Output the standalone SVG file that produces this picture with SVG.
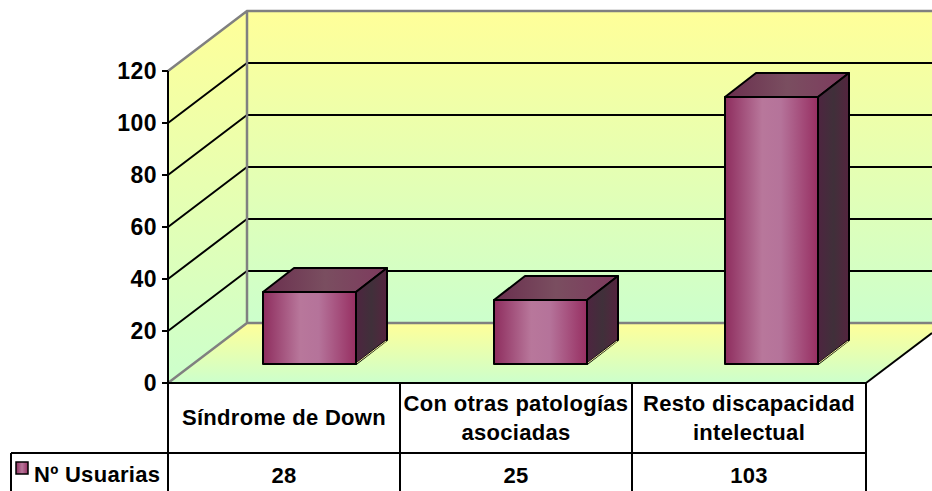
<svg xmlns="http://www.w3.org/2000/svg" width="932" height="491" viewBox="0 0 932 491">
<defs>
<linearGradient id="wall" x1="0" y1="0" x2="0" y2="1">
<stop offset="0" stop-color="#FFFF99"/>
<stop offset="1" stop-color="#CCFFCC"/>
</linearGradient>
<linearGradient id="sidewall" gradientUnits="userSpaceOnUse" x1="0" y1="11" x2="0" y2="383">
<stop offset="0" stop-color="#FFFF99"/>
<stop offset="1" stop-color="#CCFFCC"/>
</linearGradient>
<linearGradient id="floor" gradientUnits="userSpaceOnUse" x1="0" y1="323" x2="0" y2="383">
<stop offset="0" stop-color="#FFFF99"/>
<stop offset="1" stop-color="#CCFFCC"/>
</linearGradient>
<linearGradient id="front" x1="0" y1="0" x2="1" y2="0">
<stop offset="0" stop-color="#8E2D5E"/>
<stop offset="0.4" stop-color="#B8779B"/>
<stop offset="0.6" stop-color="#B5739A"/>
<stop offset="1" stop-color="#972F62"/>
</linearGradient>
<linearGradient id="top" x1="0" y1="0" x2="1" y2="0">
<stop offset="0" stop-color="#6A2F4E"/>
<stop offset="0.5" stop-color="#7A4E60"/>
<stop offset="1" stop-color="#7E3A5E"/>
</linearGradient>
<linearGradient id="side" x1="0" y1="0" x2="1" y2="0">
<stop offset="0" stop-color="#4E2540"/>
<stop offset="0.5" stop-color="#40303A"/>
<stop offset="1" stop-color="#55243F"/>
</linearGradient>
<linearGradient id="leg" x1="0" y1="0" x2="1" y2="0">
<stop offset="0" stop-color="#8E2D5E"/>
<stop offset="0.5" stop-color="#B8779B"/>
<stop offset="1" stop-color="#972F62"/>
</linearGradient>
</defs>
<style>
.t{font-family:"Liberation Sans",Arial,sans-serif;font-weight:bold;font-size:22px;fill:#000;letter-spacing:0.3px}
.ax{text-anchor:end;font-size:23px;letter-spacing:0.5px}
.c{text-anchor:middle}
.g{stroke:#000;stroke-width:2;fill:none}
.e{stroke:#808080;stroke-width:2.5;fill:none}
.k{stroke:#000;stroke-width:2;fill:none}
.b{stroke:#000;stroke-width:2;stroke-linejoin:round}
</style>
<rect width="932" height="491" fill="#fff"/>
<g id="walls">
<rect x="247" y="11" width="700" height="312" fill="url(#wall)"/>
<polygon points="168,71 247,11 247,323 168,383" fill="url(#sidewall)"/>
<polygon points="168,383 247,323 947,323 866,383" fill="url(#floor)"/>
</g>
<g id="gridlines">
<path class="g" d="M247 63H932M247 115H932M247 167H932M247 219H932M247 271H932"/>
<path class="g" d="M168 123L247 63M168 175L247 115M168 227L247 167M168 279L247 219M168 331L247 271"/>
<path class="e" d="M168 71L247 11H932M247 11V323H932M247 323L168 383"/>
<path class="k" d="M866 383L932 333"/>
</g>
<g id="axis">
<path class="k" d="M168 71V383M162 71H168M162 123H168M162 175H168M162 227H168M162 279H168M162 331H168M162 383H168"/>
<text class="t ax" x="157" y="79">120</text>
<text class="t ax" x="157" y="131">100</text>
<text class="t ax" x="157" y="183">80</text>
<text class="t ax" x="157" y="235">60</text>
<text class="t ax" x="157" y="287">40</text>
<text class="t ax" x="157" y="339">20</text>
<text class="t ax" x="157" y="391">0</text>
</g>
<g id="bar1">
<polygon class="b" points="263,292 294,268 387,268 356,292" fill="url(#top)"/>
<polygon class="b" points="356,292 387,268 387,340 356,364" fill="url(#side)"/>
<line x1="357" y1="363" x2="386" y2="341" stroke="#F4F0A0" stroke-width="1"/>
<rect class="b" x="263" y="292" width="93" height="72" fill="url(#front)"/>
</g>
<g id="bar2">
<polygon class="b" points="494,300 525,276 618,276 587,300" fill="url(#top)"/>
<polygon class="b" points="587,300 618,276 618,340 587,364" fill="url(#side)"/>
<line x1="588" y1="363" x2="617" y2="341" stroke="#F4F0A0" stroke-width="1"/>
<rect class="b" x="494" y="300" width="93" height="64" fill="url(#front)"/>
</g>
<g id="bar3">
<polygon class="b" points="725,97 756,73 849,73 818,97" fill="url(#top)"/>
<polygon class="b" points="818,97 849,73 849,340 818,364" fill="url(#side)"/>
<line x1="819" y1="363" x2="848" y2="341" stroke="#F4F0A0" stroke-width="1"/>
<rect class="b" x="725" y="97" width="93" height="267" fill="url(#front)"/>
</g>
<g id="table">
<path class="k" d="M168 383H866M11 453H866M168 383V491M400 383V491M632 383V491M866 383V491M11 453V491"/>
<text class="t c" x="284" y="425">Síndrome de Down</text>
<text class="t c" x="516" y="411">Con otras patologías</text>
<text class="t c" x="516" y="440">asociadas</text>
<text class="t c" x="749" y="411">Resto discapacidad</text>
<text class="t c" x="749" y="440">intelectual</text>
<text class="t c" x="284" y="483">28</text>
<text class="t c" x="516" y="483">25</text>
<text class="t c" x="749" y="483">103</text>
</g>
<g id="legend">
<rect x="16" y="462" width="12" height="12" fill="url(#leg)" stroke="#000" stroke-width="1.5"/>
<text class="t" x="34" y="482">Nº Usuarias</text>
</g>
</svg>
